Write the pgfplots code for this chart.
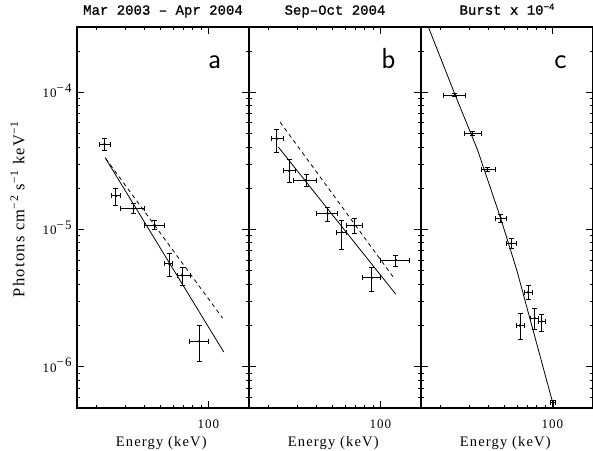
\documentclass[border=0pt]{standalone}
\usepackage{fontspec}
\setmainfont{Liberation Serif}[LetterSpace=8]
\newfontfamily\ttl{Liberation Mono}[FakeBold=1]
\usepackage{pgfplots}
\usepackage{pgfplotstable}
\pgfplotsset{compat=1.18}

% columns: energy, flux, x error minus/plus, y error minus/plus
\pgfplotstableread{
x     y        xm    xp    ym       yp
22.3  4.19e-5  1.7   1.9   0.40e-5  0.41e-5
26.3  1.76e-5  1.8   1.9   0.25e-5  0.25e-5
33.9  1.42e-5  6.0   5.8   0.11e-5  0.13e-5
45.9  1.08e-5  6.2   7.1   0.08e-5  0.09e-5
56.9  5.64e-6  3.9   2.9   1.10e-6  1.07e-6
68.4  4.65e-6  4.1   9.2   0.71e-6  0.66e-6
87.8  1.53e-6  11.8  12.2  0.44e-6  0.46e-6
}\dataA
\pgfplotstableread{
x     y        xm    xp    ym       yp
22.4  4.60e-5  1.6   2.2   0.94e-5  0.76e-5
26.9  2.68e-5  2.3   2.3   0.49e-5  0.56e-5
34.2  2.29e-5  5.7   5.7   0.22e-5  0.23e-5
46.8  1.31e-5  6.9   6.9   0.16e-5  0.14e-5
57.3  9.55e-6  4.0   4.3   2.34e-6  2.15e-6
68.7  1.07e-5  7.1   8.4   1.33e-6  1.40e-6
88.3  4.46e-6  11.2  11.7  0.93e-6  0.85e-6
125   5.97e-6  25    27    0.54e-6  0.56e-6
}\dataB
\pgfplotstableread{
x     y        xm    xp    ym       yp
24.5  9.56e-5  3.9   3.9   0.20e-5  0.20e-5
31.5  5.01e-5  3.3   4.6   0.15e-5  0.15e-5
39.1  2.74e-5  3.0   5.1   0.09e-5  0.09e-5
47.4  1.21e-5  3.6   4.1   0.09e-5  0.09e-5
55.3  7.94e-6  3.8   4.2   0.64e-6  0.69e-6
70.4  3.49e-6  3.3   4.5   0.39e-6  0.41e-6
62.7  2.00e-6  3.2   4.4   0.43e-6  0.43e-6
77.6  2.26e-6  4.4   4.1   0.40e-6  0.41e-6
85.8  2.14e-6  4.1   4.2   0.33e-6  0.28e-6
101   5.45e-7  3.8   3.6   0.50e-7  0.21e-7
}\dataC

\newcommand\tenexp[1]{10\raisebox{5.5pt}{−#1}}

\pgfplotsset{every axis/.append style={
    scale only axis,
    width=172pt, height=381pt,
    xmin=15, xmax=180, ymin=5e-7, ymax=3e-4,
    xtick={100}, xticklabels={100},
    minor xtick={20,30,40,50,60,70,80,90},
    ytick={1e-6,1e-5,1e-4},
    minor ytick={6e-7,7e-7,8e-7,9e-7,2e-6,3e-6,4e-6,5e-6,6e-6,7e-6,8e-6,9e-6,
                 2e-5,3e-5,4e-5,5e-5,6e-5,7e-5,8e-5,9e-5,2e-4,3e-4},
    major tick length=7pt, minor tick length=3.5pt,
    tick style={black, line width=0.9pt},
    axis line style={black, line width=1.1pt},
    xticklabel style={font=\fontsize{13}{14}\selectfont, anchor=base, yshift=-20.3pt},
    yticklabel style={font=\fontsize{13}{14}\selectfont, anchor=base east, inner sep=0pt, xshift=-5.3pt, yshift=-5.3pt},
    xlabel={Energy (keV)},
    xlabel style={font=\fontsize{14.5}{16}\selectfont, at={(axis description cs:0.49,0)}, anchor=base, yshift=-38.7pt},
    title style={font=\ttl\fontsize{14}{16}\selectfont, at={(axis description cs:0.5,1)}, anchor=base, yshift=6.3pt},
}}
\tikzset{panelletter/.style={font=\sffamily\fontsize{29}{29}\selectfont, anchor=base}}

\begin{document}
\begin{tikzpicture}
\begin{loglogaxis}[at={(0pt,0pt)}, anchor=south west,
  title={Mar 2003 – Apr 2004},
  yticklabels={\tenexp{6},\tenexp{5},\tenexp{4}},
  ylabel={Photons cm\textsuperscript{−2} s\textsuperscript{−1} keV\textsuperscript{−1}},
  ylabel style={font=\fontsize{16.5}{18}\selectfont, at={(axis description cs:-0.345,0.522)}, anchor=center}]
\addplot[black, only marks, mark=*, mark size=1.1pt,
  error bars/.cd, x dir=both, x explicit, y dir=both, y explicit,
  error bar style={line width=1pt}, error mark options={rotate=90, mark size=2.5pt, line width=0.9pt}]
  table[x=x, y=y, x error minus=xm, x error plus=xp, y error minus=ym, y error plus=yp] {\dataA};
\addplot[black, line width=0.8pt, no marks] coordinates {(22.5,3.35e-5) (125,1.28e-6)};
\addplot[black, line width=0.8pt, no marks, dash pattern=on 4pt off 3.5pt] coordinates {(22.7,3.30e-5) (123,2.26e-6)};
\node[panelletter] at (rel axis cs:0.80,0.891) {a};
\end{loglogaxis}
\begin{loglogaxis}[at={(172pt,0pt)}, anchor=south west,
  title={Sep–Oct 2004}, yticklabels={}]
\addplot[black, only marks, mark=*, mark size=1.1pt,
  error bars/.cd, x dir=both, x explicit, y dir=both, y explicit,
  error bar style={line width=1pt}, error mark options={rotate=90, mark size=2.5pt, line width=0.9pt}]
  table[x=x, y=y, x error minus=xm, x error plus=xp, y error minus=ym, y error plus=yp] {\dataB};
\addplot[black, line width=0.8pt, no marks] coordinates {(22.9,4.0e-5) (125,3.38e-6)};
\addplot[black, line width=0.8pt, no marks, dash pattern=on 4pt off 3.5pt] coordinates {(23.5,6.08e-5) (122,4.42e-6)};
\node[panelletter] at (rel axis cs:0.81,0.891) {b};
\end{loglogaxis}
\begin{loglogaxis}[at={(344pt,0pt)}, anchor=south west,
  title={Burst x 10\raisebox{5pt}{\fontsize{9}{9}\selectfont −4}}, yticklabels={}]
\addplot[black, only marks, mark=*, mark size=1.1pt,
  error bars/.cd, x dir=both, x explicit, y dir=both, y explicit,
  error bar style={line width=1pt}, error mark options={rotate=90, mark size=2.5pt, line width=0.9pt}]
  table[x=x, y=y, x error minus=xm, x error plus=xp, y error minus=ym, y error plus=yp] {\dataC};
\addplot[black, line width=0.8pt, no marks] coordinates {(16.7,2.99e-4) (24.5,9.67e-5) (33.9,3.83e-5) (47.4,1.21e-5) (59.8,5.08e-6) (100,5.6e-7)};
\node[panelletter] at (rel axis cs:0.81,0.891) {c};
\end{loglogaxis}
\pgfresetboundingbox
\path[use as bounding box] (-77pt,-42pt) rectangle (516pt,408pt);
\end{tikzpicture}
\end{document}
